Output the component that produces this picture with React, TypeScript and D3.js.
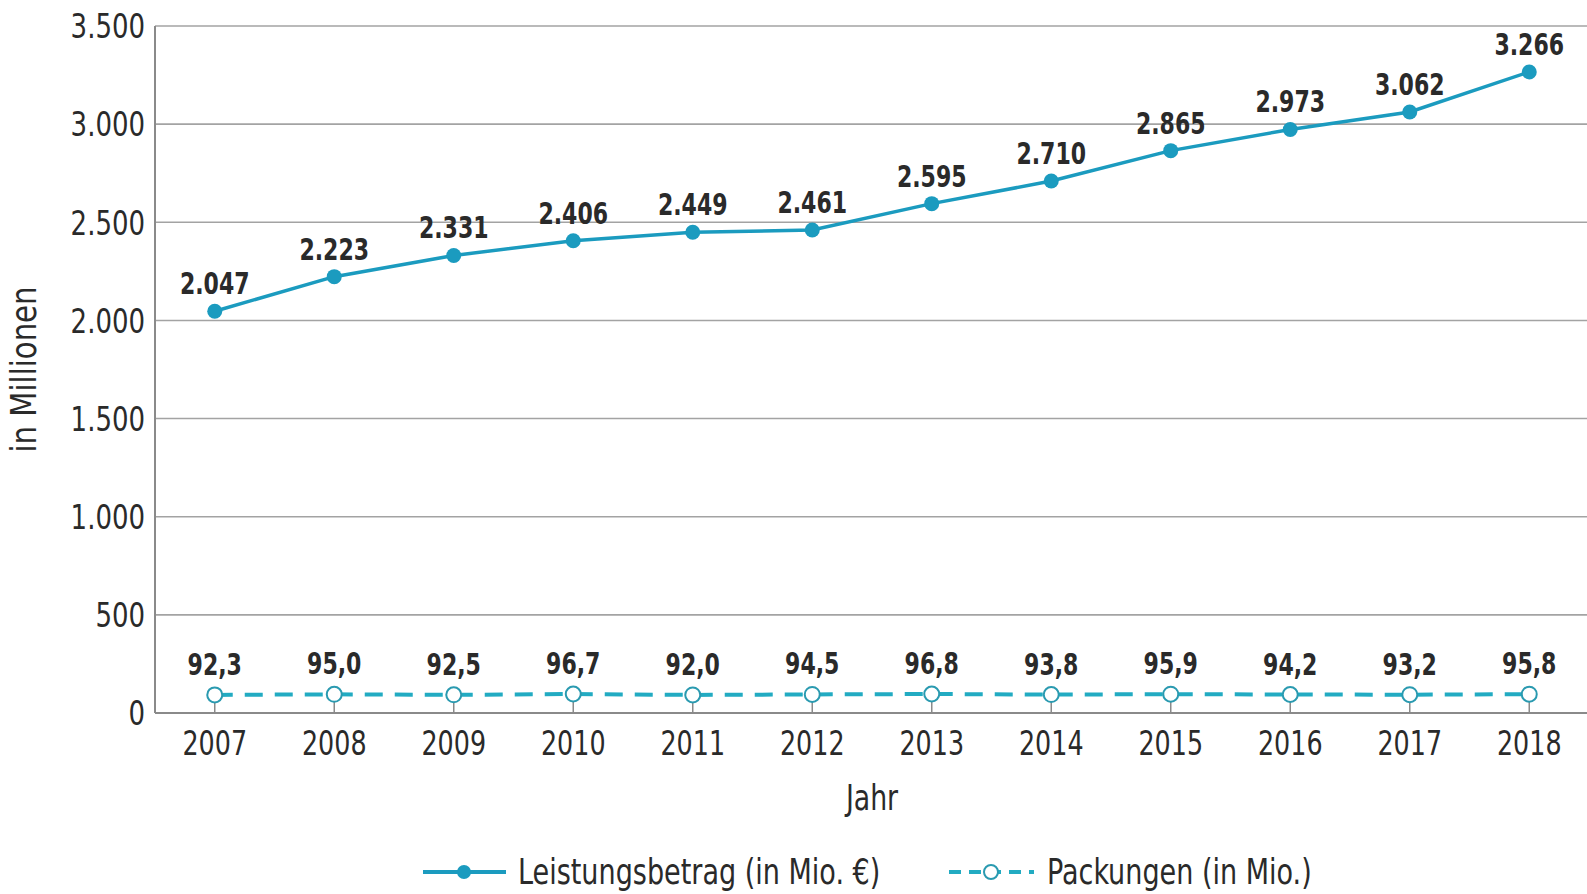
import React from 'react'
import * as d3 from 'd3'

const years = ['2007', '2008', '2009', '2010', '2011', '2012', '2013', '2014', '2015', '2016', '2017', '2018']
const leistungsbetrag = [2047, 2223, 2331, 2406, 2449, 2461, 2595, 2710, 2865, 2973, 3062, 3266]
const packungen = [92.3, 95.0, 92.5, 96.7, 92.0, 94.5, 96.8, 93.8, 95.9, 94.2, 93.2, 95.8]
const yTicks = [0, 500, 1000, 1500, 2000, 2500, 3000, 3500]
const seriesNames = ['Leistungsbetrag (in Mio. €)', 'Packungen (in Mio.)']

const FONT = '"Liberation Sans Narrow", "DejaVu Sans Condensed", sans-serif'
const SOLID = '#1b9bbf'
const DASHED = '#22abc2'
const TEXT = '#2a2a2a'

const fmtInt = (v: number) => d3.format(',')(v).replace(/,/g, '.')
const fmtDec = (v: number) => v.toFixed(1).replace('.', ',')

// text squeezed horizontally, the original uses a condensed face
function T({ x, y, size, sx = 0.83, anchor = 'middle', bold = false, rotate = 0, dy, children }: any) {
  return (
    <text
      transform={`translate(${x}, ${y}) rotate(${rotate}) scale(${sx}, 1)`}
      textAnchor={anchor}
      dy={dy}
      fontSize={size}
      fontWeight={bold ? 'bold' : 'normal'}
      fill={TEXT}
    >
      {children}
    </text>
  )
}

export default function App() {
  const w = 1587
  const h = 894
  const margin = { top: 26, right: -2, bottom: 181, left: 155 }

  const x = d3.scaleBand().domain(years).range([margin.left, w - margin.right]).padding(0)
  const y = d3.scaleLinear().domain([0, 3500]).range([h - margin.bottom, margin.top])
  const cx = (yr: string) => (x(yr) as number) + x.bandwidth() / 2

  const line1 = d3.line<number>().x((_, i) => cx(years[i])).y(d => y(d))(leistungsbetrag) as string
  const line2 = d3.line<number>().x((_, i) => cx(years[i])).y(d => y(d))(packungen) as string

  const y0 = y(0)
  const plotMid = (margin.left + w - margin.right) / 2

  return (
    <svg width={w} height={h} style={{ position: 'absolute', left: 0, top: 0, background: '#fff' }} fontFamily={FONT}>
      {/* grid */}
      {yTicks.filter(t => t > 0).map(t => (
        <line key={t} x1={margin.left} x2={w} y1={y(t)} y2={y(t)} stroke="#a3a3a3" strokeWidth={1.6} />
      ))}
      {/* axes */}
      <line x1={margin.left} x2={margin.left} y1={margin.top} y2={y0} stroke="#8a8a8a" strokeWidth={2} />
      <line x1={margin.left} x2={w} y1={y0} y2={y0} stroke="#8a8a8a" strokeWidth={2} />
      {years.map(yr => (
        <line key={yr} x1={cx(yr)} x2={cx(yr)} y1={y0} y2={y0 - 15} stroke="#8a8a8a" strokeWidth={1.5} />
      ))}
      {yTicks.map(t => (
        <T key={t} x={margin.left - 10} y={y(t)} dy="0.36em" anchor="end" size={34} sx={0.85}>
          {fmtInt(t)}
        </T>
      ))}
      {years.map(yr => (
        <T key={yr} x={cx(yr)} y={755} size={34} sx={0.83}>{yr}</T>
      ))}
      <T x={plotMid} y={810} size={35} sx={0.85}>Jahr</T>
      <T x={36} y={(margin.top + y0) / 2} rotate={-90} size={36} sx={0.9}>in Millionen</T>

      {/* Packungen */}
      <path d={line2} fill="none" stroke={DASHED} strokeWidth={4} strokeDasharray="18 12" />
      {packungen.map((v, i) => (
        <g key={i}>
          <circle cx={cx(years[i])} cy={y(v)} r={7.5} fill="#fff" stroke="#2a9ab0" strokeWidth={2} />
          <T x={cx(years[i])} y={y(v) - 20} size={31} bold sx={0.79}>{fmtDec(v)}</T>
        </g>
      ))}

      {/* Leistungsbetrag */}
      <path d={line1} fill="none" stroke={SOLID} strokeWidth={3.5} />
      {leistungsbetrag.map((v, i) => (
        <g key={i}>
          <circle cx={cx(years[i])} cy={y(v)} r={7.5} fill={SOLID} />
          <T x={cx(years[i])} y={y(v) - 17} size={31} bold sx={0.79}>{fmtInt(v)}</T>
        </g>
      ))}

      {/* legend */}
      <line x1={423} x2={506} y1={872} y2={872} stroke={SOLID} strokeWidth={4} />
      <circle cx={464} cy={872} r={7} fill={SOLID} />
      <T x={518} y={884} anchor="start" size={36} sx={0.835}>{seriesNames[0]}</T>
      <line x1={949} x2={1034} y1={872} y2={872} stroke={DASHED} strokeWidth={4} strokeDasharray="12 8" />
      <circle cx={991} cy={872} r={7} fill="#fff" stroke="#2a9ab0" strokeWidth={2} />
      <T x={1047} y={884} anchor="start" size={36} sx={0.835}>{seriesNames[1]}</T>
    </svg>
  )
}
